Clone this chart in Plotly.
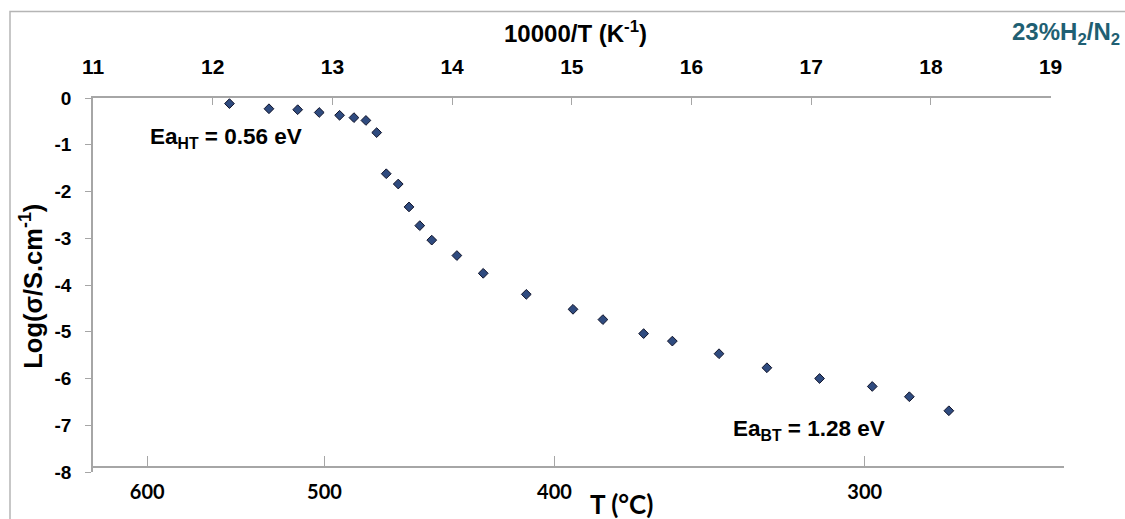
import plotly.graph_objects as go

# 10000/T (K^-1) and Log(sigma / S.cm^-1)
inv_T = [12.14, 12.47, 12.71, 12.89, 13.06, 13.18, 13.28, 13.37, 13.45, 13.55,
         13.64, 13.73, 13.83, 14.04, 14.26, 14.62, 15.01, 15.26, 15.60, 15.84,
         16.23, 16.63, 17.07, 17.51, 17.82, 18.15]
log_sigma = [-0.12, -0.23, -0.25, -0.31, -0.37, -0.42, -0.48, -0.74, -1.62, -1.84,
             -2.33, -2.73, -3.04, -3.37, -3.75, -4.20, -4.52, -4.74, -5.04, -5.20,
             -5.47, -5.77, -6.00, -6.17, -6.39, -6.69]

top_ticks = [11, 12, 13, 14, 15, 16, 17, 18, 19]
y_ticks = [0, -1, -2, -3, -4, -5, -6, -7, -8]
temp_ticks_C = [600, 500, 400, 300]
bottom_tickvals = [10000.0 / (t + 273.15) for t in temp_ticks_C]

W, H = 1125, 519
L, R, T, B = 93, 1064, 98, 472.5
px_per_unit = 119.7
x_max_bottom = 11 + (R - L) / px_per_unit
top_domain_end = (8 * px_per_unit) / (R - L)
bottom_axis_frac = 6.0 / (B - T)

def px(xp):
    return (xp - L) / (R - L)

def py(yp):
    return (B - yp) / (B - T)

ARIAL = "Arial, Liberation Sans, sans-serif"
LATO = "Lato, Carlito, Calibri, sans-serif"
GRAY = "#a6a6a6"

fig = go.Figure()
fig.add_trace(go.Scatter(
    x=inv_T, y=log_sigma, mode="markers", xaxis="x2", yaxis="y",
    marker=dict(symbol="diamond", size=7.5, color="#2f4b7f",
                line=dict(color="#10132a", width=1)),
    showlegend=False, hoverinfo="x+y"))
fig.add_trace(go.Scatter(x=[], y=[], xaxis="x", yaxis="y2", showlegend=False))

fig.update_layout(
    width=W, height=H,
    margin=dict(l=L, r=W - R, t=T, b=H - B, pad=0),
    paper_bgcolor="white", plot_bgcolor="rgba(0,0,0,0)",
    xaxis=dict(
        domain=[0, 1], range=[11, x_max_bottom], anchor="y2",
        side="bottom", showgrid=False, zeroline=False,
        showline=True, linecolor=GRAY, linewidth=2,
        ticks="inside", ticklen=10, tickcolor=GRAY, tickwidth=1,
        tickvals=bottom_tickvals, ticktext=[str(t) for t in temp_ticks_C],
        tickfont=dict(family=LATO, size=20, color="black", weight="bold"),
        ticklabelstandoff=7),
    xaxis2=dict(
        domain=[0, top_domain_end], range=[11, 19], anchor="y", side="top",
        showgrid=False, zeroline=False,
        showline=True, linecolor=GRAY, linewidth=1.5,
        ticks="inside", ticklen=7, tickcolor=GRAY, tickwidth=1,
        tickvals=top_ticks,
        tickfont=dict(family=ARIAL, size=21, color="black", weight="bold"),
        ticklabelstandoff=14),
    yaxis=dict(
        domain=[0, 1], range=[-8, 0], anchor="x",
        tickvals=y_ticks, ticktext=[str(v) for v in y_ticks],
        showgrid=False, zeroline=False,
        showline=True, linecolor=GRAY, linewidth=1.5,
        ticks="outside", ticklen=6, tickcolor=GRAY, tickwidth=1,
        tickfont=dict(family=ARIAL, size=19, color="black", weight="bold"),
        ticklabelstandoff=10),
    yaxis2=dict(domain=[bottom_axis_frac, 1], range=[0, 1], anchor="x",
                visible=False, showgrid=False, zeroline=False),
)

annotations = [
    dict(text="10000/T (K<sup>-1</sup>)", x=px(575), y=py(32),
         font=dict(family=ARIAL, size=24, color="black", weight="bold")),
    dict(text="23%H<sub>2</sub>/N<sub>2</sub>", x=px(1066), y=py(33),
         font=dict(family=ARIAL, size=24, color="#1f5f73", weight="bold")),
    dict(text="Log(σ/S.cm<sup>-1</sup>)", x=px(31), y=py(287), textangle=-90,
         font=dict(family=ARIAL, size=25.5, color="black", weight="bold")),
    dict(text="T (°C)", x=px(621), y=py(505),
         font=dict(family=LATO, size=26, color="black", weight="bold")),
    dict(text="Ea<sub>HT</sub> = 0.56 eV", x=px(226), y=py(138),
         font=dict(family=ARIAL, size=22.5, color="black", weight="bold")),
    dict(text="Ea<sub>BT</sub> = 1.28 eV", x=px(809), y=py(430),
         font=dict(family=ARIAL, size=22.5, color="black", weight="bold")),
]
for a in annotations:
    a.update(xref="paper", yref="paper", showarrow=False,
             xanchor="center", yanchor="middle")
fig.update_layout(annotations=annotations)

# outer chart border (partially cropped in the picture)
fig.add_shape(type="rect", xref="paper", yref="paper",
              x0=px(10), x1=px(1140), y0=py(540), y1=py(11.5),
              line=dict(color="#b5b5b5", width=1.5), fillcolor="rgba(0,0,0,0)",
              layer="below")

fig.write_html("out.html", config={"displayModeBar": False},
               post_script="document.body.style.margin='0';document.body.style.overflow='hidden';")
